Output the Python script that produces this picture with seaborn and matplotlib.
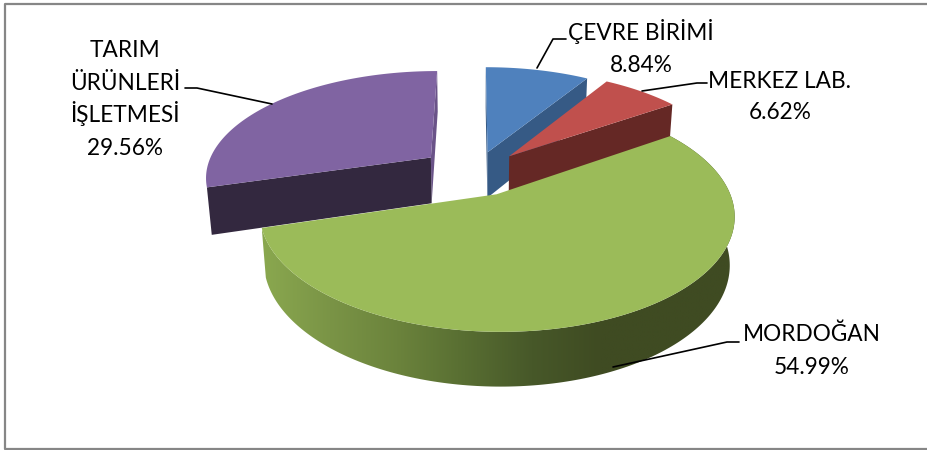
import numpy as np
import matplotlib
matplotlib.use('Agg')
import matplotlib.pyplot as plt
import seaborn as sns
from matplotlib.patches import Polygon

categories = ['ÇEVRE BİRİMİ', 'MERKEZ LAB.', 'MORDOĞAN', 'TARIM\nÜRÜNLERİ\nİŞLETMESİ']
values = [8.84, 6.62, 54.99, 29.56]

top_colors = ['#4f81bd', '#c0504d', '#9bbb59', '#8064a2']
wall_colors = ['#365a85', '#652825', '#3f4b22', '#33283f']
green_wall = ['#8aa84f', '#7a9446', '#6b833c', '#586e32', '#475829', '#3f4b22', '#3f4b22', '#3f4b22']

# pie geometry in pixels, the 3d look is a small perspective projection
CX, CY = 475, 173
RX, RY = 226, 106
DEPTH = 47.5
K_Y, K_Z = 0.17, 0.018
EXPLODE = [0.21, 0.225, 0.215, 0.25]


def project(x, y, z=0.0):
    den = 1 + K_Y * y + K_Z * z
    return CX + RX * x / den, CY + (DEPTH * z - RY * y) / den


def rim(t1, t2, off, z=0.0):
    t = np.radians(np.linspace(t1, t2, 200))
    return project(off[0] + np.sin(t), off[1] + np.cos(t), z)


def cut_wall(ax, angle, off, color, zorder):
    t = np.radians(angle)
    ex, ey = off[0] + np.sin(t), off[1] + np.cos(t)
    p = [project(off[0], off[1]), project(ex, ey), project(ex, ey, 1), project(off[0], off[1], 1)]
    ax.fill([q[0] for q in p], [q[1] for q in p], color=color, lw=0, zorder=zorder)


def draw_slice(ax, t1, t2, off, i, zorder):
    x, y = rim(t1, t2, off)
    ax0, ay0 = project(off[0], off[1])
    ax.fill(np.r_[ax0, x], np.r_[ay0, y], color=top_colors[i], lw=0, zorder=zorder + 1)


sns.set_theme(style='white')
plt.rcParams['font.family'] = ['Lato', 'DejaVu Sans']

fig, ax = plt.subplots(figsize=(9.28, 4.5), dpi=100)
ax.set_position([0, 0, 1, 1])
ax.axis('off')

# frame has no right side in the original
ax.plot([928, 5, 5, 928], [4, 4, 449, 449], color='#868686', lw=1.6, zorder=0)

edges = np.r_[0, np.cumsum(values)] / np.sum(values) * 360
offs = []
for i in range(4):
    mid = np.radians((edges[i] + edges[i + 1]) / 2)
    offs.append((EXPLODE[i] * np.sin(mid), EXPLODE[i] * np.cos(mid)))

# back slices first, green is in front of all
cut_wall(ax, edges[0], offs[0], wall_colors[0], 1)
cut_wall(ax, edges[1], offs[0], wall_colors[0], 1)
draw_slice(ax, edges[0], edges[1], offs[0], 0, 1)

cut_wall(ax, edges[2], offs[1], wall_colors[1], 3)
draw_slice(ax, edges[1], edges[2], offs[1], 1, 3)

cut_wall(ax, edges[4], offs[3], '#6a5388', 5)
cut_wall(ax, edges[3], offs[3], wall_colors[3], 5)
draw_slice(ax, edges[3], edges[4], offs[3], 3, 5)

# green rim wall with the horizontal shading, image clipped to the wall shape
x1, y1 = rim(edges[2], edges[3], offs[2])
x2, y2 = rim(edges[2], edges[3], offs[2], 1)
wall = Polygon(np.c_[np.r_[x1, x2[::-1]], np.r_[y1, y2[::-1]]], closed=True, fc='none', ec='none',
               transform=ax.transData)
ax.add_patch(wall)
shades = np.array(sns.blend_palette(green_wall, n_colors=256))[None, :, :]
grad = ax.imshow(shades, extent=(min(x1.min(), x2.min()), max(x1.max(), x2.max()), 400, 100),
                 aspect='auto', zorder=7, interpolation='bilinear')
grad.set_clip_path(wall)
draw_slice(ax, edges[2], edges[3], offs[2], 2, 7)

# leader lines
leaders = [
    ([537, 553, 566], [68, 39, 39]),
    ([642, 697, 707], [91, 83, 83]),
    ([613, 727, 739], [367, 342, 342]),
    ([272, 197, 185], [104, 88, 88]),
]
for lx, ly in leaders:
    ax.plot(lx, ly, color='black', lw=1.2, zorder=9, solid_joinstyle='round')

# one text per line, the dotted capitals would make multiline spacing uneven
label_x = [641, 780, 812, 125]
label_base = [[39.5, 72], [87.5, 119], [341, 374], [57, 90, 122.5, 155]]
for name, v, lx, bases in zip(categories, values, label_x, label_base):
    for line, by in zip(name.split('\n') + [f'{v:.2f}%'], bases):
        ax.text(lx, by, line, ha='center', va='baseline', fontsize=16.3, color='black', zorder=10)

ax.set_xlim(0, 928)
ax.set_ylim(450, 0)

fig.savefig('out.png', dpi=100)
